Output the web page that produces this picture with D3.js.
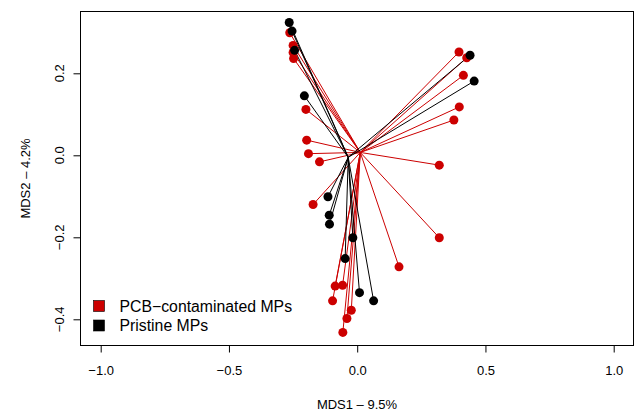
<!DOCTYPE html>
<html>
<head>
<meta charset="utf-8">
<script src="https://cdn.jsdelivr.net/npm/d3@7"></script>
<style>
  body { margin: 0; background: #fff; }
  text { font-family: "Liberation Sans", Arial, Helvetica, sans-serif; fill: #000; }
</style>
</head>
<body>
<div id="chart"></div>
<script>
// MDS scores
const pcbX = [-0.263, -0.250, -0.250, -0.248, -0.200, -0.197, -0.190, -0.147, 0.320, -0.172, 0.320, 0.163,
              -0.086, -0.057, -0.096, -0.023, -0.040, -0.056, 0.397, 0.427, 0.414, 0.398, 0.377]
const pcbY = [0.299, 0.268, 0.251, 0.236, 0.112, 0.037, 0.004, -0.016, -0.024, -0.120, -0.201, -0.272,
              -0.319, -0.317, -0.355, -0.378, -0.398, -0.432, 0.252, 0.238, 0.195, 0.118, 0.086]
const pristineX = [-0.265, -0.254, -0.244, -0.206, -0.114, -0.109, -0.108, -0.017, -0.047, 0.009, 0.064, 0.440, 0.456]
const pristineY = [0.324, 0.303, 0.256, 0.145, -0.101, -0.146, -0.168, -0.201, -0.252, -0.335, -0.355, 0.244, 0.181]

// group centroids (spider hubs)
const pcbCentre = [0.012, 0.007]
const pristineCentre = [-0.035, -0.005]

const xTicks = [-1.0, -0.5, 0.0, 0.5, 1.0]
const yTicks = [-0.4, -0.2, 0.0, 0.2]
const legendLabels = ["PCB\u2212contaminated MPs", "Pristine MPs"]
const groupColors = ["#cc0000", "#000000"]

const width = 639, height = 417
const box = { left: 80.5, right: 633.5, top: 11.5, bottom: 345.5 }

const svg = d3.select("#chart")
    .append("svg")
    .attr("width", width)
    .attr("height", height)

const xScale = d3.scaleLinear()
    .domain([-1, 1])
    .range([100.7, 613.7])

const yScale = d3.scaleLinear()
    .domain([-0.4, 0.2])
    .range([319.3, 73.3])

const fmt = d => (d < 0 ? "\u2212" : "") + d3.format(".1f")(Math.abs(d))

// x axis
const xAxis = d3.axisBottom(xScale)
    .tickValues(xTicks)
    .tickSize(7)
    .tickPadding(14)
    .tickFormat(fmt)

const gx = svg.append("g")
    .attr("transform", `translate(0, ${box.bottom})`)
    .call(xAxis)
gx.select(".domain").remove()
gx.selectAll("line").attr("stroke", "#000")
gx.selectAll("text")
    .attr("font-size", 13)
    .attr("font-family", null)
    .attr("dy", null)
    .attr("y", 29.5)

// y axis
const yAxis = d3.axisLeft(yScale)
    .tickValues(yTicks)
    .tickSize(7)
    .tickFormat("")

const gy = svg.append("g")
    .attr("transform", `translate(${box.left}, 0)`)
    .call(yAxis)
gy.select(".domain").remove()
gy.selectAll("line").attr("stroke", "#000")

svg.append("g")
    .selectAll("text")
    .data(yTicks)
    .join("text")
    .attr("transform", d => `translate(63.5, ${yScale(d)}) rotate(-90)`)
    .attr("text-anchor", "middle")
    .attr("font-size", 13)
    .text(fmt)

// axis titles
svg.append("text")
    .attr("x", (box.left + box.right) / 2)
    .attr("y", 409)
    .attr("text-anchor", "middle")
    .attr("font-size", 13)
    .text("MDS1 \u2013 9.5%")

svg.append("text")
    .attr("transform", `translate(30, ${(box.top + box.bottom) / 2}) rotate(-90)`)
    .attr("text-anchor", "middle")
    .attr("font-size", 13)
    .text("MDS2 \u2013 4.2%")

// spiders
const groups = [
    { x: pcbX, y: pcbY, centre: pcbCentre, color: groupColors[0] },
    { x: pristineX, y: pristineY, centre: pristineCentre, color: groupColors[1] }
]

const plot = svg.append("g")

groups.forEach(g => {
    const pts = g.x.map((v, i) => [v, g.y[i]])
    plot.append("g")
        .selectAll("line")
        .data(pts)
        .join("line")
        .attr("x1", xScale(g.centre[0]))
        .attr("y1", yScale(g.centre[1]))
        .attr("x2", d => xScale(d[0]))
        .attr("y2", d => yScale(d[1]))
        .attr("stroke", g.color)
        .attr("stroke-width", 1)
})

groups.forEach(g => {
    const pts = g.x.map((v, i) => [v, g.y[i]])
    plot.append("g")
        .selectAll("circle")
        .data(pts)
        .join("circle")
        .attr("cx", d => xScale(d[0]))
        .attr("cy", d => yScale(d[1]))
        .attr("r", 4.5)
        .attr("fill", g.color)
})

// frame
svg.append("rect")
    .attr("x", box.left)
    .attr("y", box.top)
    .attr("width", box.right - box.left)
    .attr("height", box.bottom - box.top)
    .attr("fill", "none")
    .attr("stroke", "#000")
    .attr("stroke-width", 1)

// legend
const legend = svg.append("g")
    .attr("transform", "translate(93.5, 300.5)")

legendLabels.forEach((label, i) => {
    legend.append("rect")
        .attr("x", 0)
        .attr("y", i * 19.5)
        .attr("width", 11)
        .attr("height", 11)
        .attr("fill", groupColors[i])
        .attr("stroke", "#000")
        .attr("stroke-width", 0.6)
    legend.append("text")
        .attr("x", 26)
        .attr("y", i * 19.5 + 11)
        .attr("font-size", 15.8)
        .text(label)
})
</script>
</body>
</html>
